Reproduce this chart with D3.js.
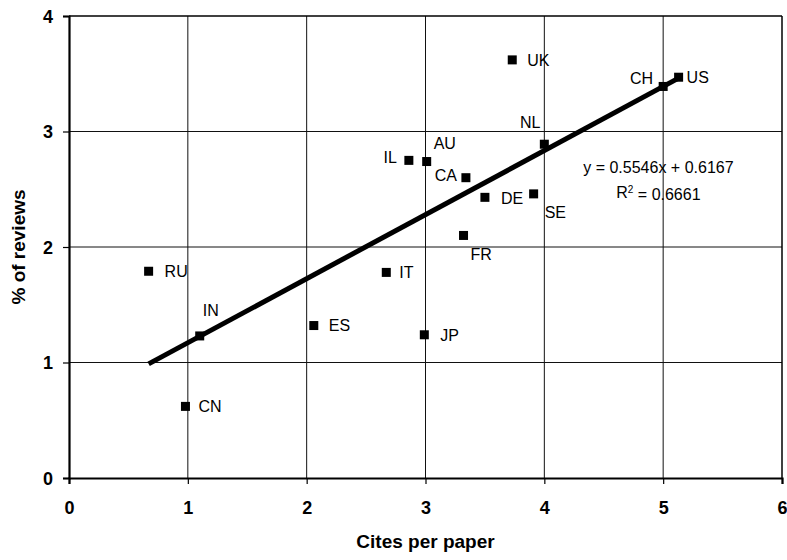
<!DOCTYPE html>
<html>
<head>
<meta charset="utf-8">
<script src="https://cdn.jsdelivr.net/npm/d3@7/dist/d3.min.js"></script>
<style>
  body { margin: 0; background: #fff; }
  svg { display: block; font-family: "Liberation Sans", Arial, sans-serif; }
</style>
</head>
<body>
<svg id="chart" width="787" height="560"></svg>
<script>
// ---- data ----
const countries = ["RU","IN","CN","ES","IT","JP","IL","AU","CA","FR","DE","SE","NL","UK","CH","US"];
const citesPerPaper = [0.67,1.10,0.98,2.06,2.67,2.99,2.86,3.01,3.34,3.32,3.50,3.91,4.00,3.73,5.00,5.13];
const pctReviews = [1.79,1.23,0.62,1.32,1.78,1.24,2.75,2.74,2.60,2.10,2.43,2.46,2.89,3.62,3.39,3.47];
const xTicks = [0,1,2,3,4,5,6];
const yTicks = [0,1,2,3,4];
const trendSlope = 0.5546;
const trendIntercept = 0.6167;
const eqLine1 = "y = 0.5546x + 0.6167";
const eqR2 = "0.6661";
const xTitle = "Cites per paper";
const yTitle = "% of reviews";

// ---- label placement (styling) ----
const labelStyle = {
  RU:{dx:16,dy:0,a:"start"}, IN:{dx:3,dy:-26,a:"start"}, CN:{dx:13,dy:0,a:"start"},
  ES:{dx:15,dy:0,a:"start"}, IT:{dx:13,dy:0,a:"start"}, JP:{dx:16,dy:0,a:"start"},
  IL:{dx:-12,dy:-3,a:"end"}, AU:{dx:7,dy:-18,a:"start"}, CA:{dx:-9,dy:-2,a:"end"},
  FR:{dx:7,dy:19,a:"start"}, DE:{dx:16,dy:1,a:"start"}, SE:{dx:11,dy:18,a:"start"},
  NL:{dx:-4,dy:-22,a:"end"}, UK:{dx:15,dy:0,a:"start"}, CH:{dx:-10,dy:-8,a:"end"},
  US:{dx:8,dy:0,a:"start"}
};

const svg = d3.select("#chart");
const m = {left:69, right:787-782, top:16, bottom:560-478};
const W = 787 - m.left - m.right, H = 560 - m.top - m.bottom;

const x = d3.scaleLinear().domain([0,6]).range([0, W]);
const y = d3.scaleLinear().domain([0,4]).range([H, 0]);

const g = svg.append("g").attr("transform", `translate(${m.left},${m.top})`);

// gridlines
g.append("g").selectAll("line").data(xTicks.slice(1,-1)).join("line")
  .attr("x1", d=>x(d)).attr("x2", d=>x(d)).attr("y1", 0).attr("y2", H)
  .attr("stroke", "#111").attr("stroke-width", 1);
g.append("g").selectAll("line").data(yTicks.slice(1,-1)).join("line")
  .attr("y1", d=>y(d)).attr("y2", d=>y(d)).attr("x1", 0).attr("x2", W)
  .attr("stroke", "#111").attr("stroke-width", 1);

// border top/right
g.append("line").attr("x1",0).attr("x2",W).attr("y1",0).attr("y2",0).attr("stroke","#000").attr("stroke-width",1.5);
g.append("line").attr("x1",W).attr("x2",W).attr("y1",0).attr("y2",H).attr("stroke","#000").attr("stroke-width",1.5);

// axes
const xAxis = g.append("g").attr("transform", `translate(0,${H})`)
  .call(d3.axisBottom(x).tickValues(xTicks).tickFormat(d3.format("d")).tickSize(6).tickPadding(17));
const yAxis = g.append("g")
  .call(d3.axisLeft(y).tickValues(yTicks).tickFormat(d3.format("d")).tickSize(6).tickPadding(10));
[xAxis, yAxis].forEach(a => {
  a.select(".domain").attr("stroke","#000").attr("stroke-width",2.2);
  a.selectAll(".tick line").attr("stroke","#000").attr("stroke-width",1.2);
  a.selectAll(".tick text").attr("font-family","'Liberation Sans', Arial, sans-serif")
    .attr("font-size",18).attr("font-weight","bold").attr("fill","#000");
});
yAxis.selectAll(".tick text").attr("dy","0.36em");

// trendline
const ext = d3.extent(citesPerPaper);
g.append("line")
  .attr("x1", x(ext[0])).attr("y1", y(trendSlope*ext[0]+trendIntercept))
  .attr("x2", x(ext[1])).attr("y2", y(trendSlope*ext[1]+trendIntercept))
  .attr("stroke","#000").attr("stroke-width",5);

// points
const pts = countries.map((c,i)=>({c, x:citesPerPaper[i], y:pctReviews[i]}));
g.append("g").selectAll("rect").data(pts).join("rect")
  .attr("x", d=>x(d.x)-4.5).attr("y", d=>y(d.y)-4.5)
  .attr("width",9).attr("height",9).attr("fill","#000");

g.append("g").selectAll("text").data(pts).join("text")
  .attr("x", d=>x(d.x)+labelStyle[d.c].dx)
  .attr("y", d=>y(d.y)+labelStyle[d.c].dy)
  .attr("dy","0.36em")
  .attr("text-anchor", d=>labelStyle[d.c].a)
  .attr("font-size",16).attr("fill","#000")
  .text(d=>d.c);

// equation
const eq = g.append("g").attr("transform", `translate(${x(4.96)},0)`);
eq.append("text").attr("y", 167 - m.top).attr("dy","0.36em").attr("text-anchor","middle")
  .attr("font-size",16).text(eqLine1);
const r2 = eq.append("text").attr("y", 192 - m.top).attr("dy","0.36em").attr("text-anchor","middle")
  .attr("font-size",16);
r2.append("tspan").text("R");
r2.append("tspan").attr("dy","-0.45em").attr("font-size",10).text("2");
r2.append("tspan").attr("dy","0.45em").text(" = " + eqR2);

// axis titles
svg.append("text").attr("x", m.left + W/2).attr("y", 541).attr("dy","0.36em")
  .attr("text-anchor","middle").attr("font-size",19).attr("font-weight","bold").text(xTitle);
svg.append("text").attr("transform", `translate(18,${m.top + H/2}) rotate(-90)`).attr("dy","0.36em")
  .attr("text-anchor","middle").attr("font-size",19).attr("font-weight","bold").text(yTitle);
</script>
</body>
</html>
